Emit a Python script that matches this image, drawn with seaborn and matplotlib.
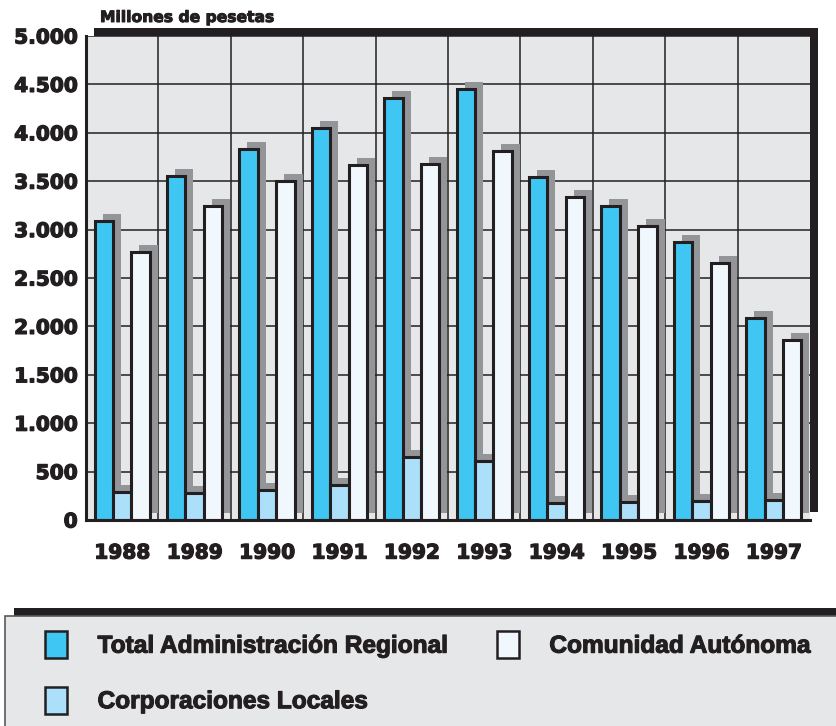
import numpy as np
import pandas as pd
import matplotlib
matplotlib.use('Agg')
import matplotlib.pyplot as plt
import matplotlib.patheffects as pe
import seaborn as sns
from matplotlib.patches import Rectangle, Patch
from matplotlib.transforms import ScaledTranslation

# ---------------- data ----------------
years = ['1988', '1989', '1990', '1991', '1992', '1993', '1994', '1995', '1996', '1997']
total_admin = [3090, 3550, 3830, 4050, 4360, 4450, 3540, 3240, 2875, 2085]
corporaciones = [285, 275, 310, 360, 650, 610, 180, 190, 195, 205]
comunidad = [2770, 3240, 3500, 3670, 3680, 3810, 3340, 3035, 2660, 1860]
series_names = ['Total Administración Regional', 'Corporaciones Locales', 'Comunidad Autónoma']
ytick_values = [0, 500, 1000, 1500, 2000, 2500, 3000, 3500, 4000, 4500, 5000]
ytick_labels = ['0', '500', '1.000', '1.500', '2.000', '2.500', '3.000', '3.500', '4.000', '4.500', '5.000']
unit_label = 'Millones de pesetas'

# ---------------- style ----------------
DARK = '#231f20'
BG = '#e6e7e8'
SHADOW = '#939598'
colors = {series_names[0]: '#3fc6f2', series_names[1]: '#abdffa', series_names[2]: '#f0f7fd'}

sns.set_theme(style='white')
plt.rcParams['font.family'] = ['DejaVu Sans']

heavy = [pe.withStroke(linewidth=0.9, foreground=DARK)]

df = pd.DataFrame({
    'year': years * 3,
    'serie': [series_names[0]] * len(years) + [series_names[1]] * len(years) + [series_names[2]] * len(years),
    'value': total_admin + corporaciones + comunidad,
})

DPI = 100
W, H = 837, 726
fig = plt.figure(figsize=(W / DPI, H / DPI), dpi=DPI)
fig.patch.set_facecolor('white')
L, R, B, T = 86, 810, 520, 36
ax = fig.add_axes([L / W, 1 - B / H, (R - L) / W, (B - T) / H])
ax.set_facecolor(BG)

# frame shadow behind plot area
frame_off = ScaledTranslation(8 / DPI, 8 / DPI, fig.dpi_scale_trans)
fig.add_artist(Rectangle((0, 0), 1, 1, transform=ax.transAxes + frame_off,
                         facecolor=DARK, edgecolor='none', zorder=-1))

# bar shadows
sns.barplot(data=df, x='year', y='value', hue='serie', hue_order=series_names,
            palette={s: SHADOW for s in series_names}, width=0.76, saturation=1,
            errorbar=None, legend=False, linewidth=0, ax=ax, zorder=1)
bar_off = ScaledTranslation(8 / DPI, 7 / DPI, fig.dpi_scale_trans)
for p in ax.patches:
    p.set_transform(ax.transData + bar_off)

# bars
sns.barplot(data=df, x='year', y='value', hue='serie', hue_order=series_names,
            palette=colors, width=0.76, saturation=1, errorbar=None, legend=False,
            edgecolor=DARK, linewidth=2.2, ax=ax, zorder=2)

ax.set_xlim(-0.5, len(years) - 0.5)
ax.set_ylim(0, 5000)
ax.set_xlabel('')
ax.set_ylabel('')

# grid
ax.set_axisbelow(True)
ax.set_yticks(ytick_values, labels=ytick_labels)
ax.set_xticks(np.arange(0.5, len(years) - 1, 1), minor=True)
ax.yaxis.grid(True, color=DARK, lw=1.1)
ax.xaxis.grid(True, which='minor', color=DARK, lw=1.1)
ax.xaxis.grid(False, which='major')

for s in ['top', 'right']:
    ax.spines[s].set_visible(False)
for s in ['left', 'bottom']:
    ax.spines[s].set_color(DARK)
    ax.spines[s].set_linewidth(2.2)
    ax.spines[s].set_zorder(3)

ax.tick_params(axis='y', length=3, width=2, color=DARK, pad=3, labelsize=14.5, labelcolor=DARK)
ax.tick_params(axis='x', which='major', length=0, pad=17, labelsize=14.5, labelcolor=DARK)
ax.tick_params(axis='x', which='minor', length=0)
for lab in ax.get_yticklabels() + ax.get_xticklabels():
    lab.set_fontweight('bold')
    lab.set_path_effects(heavy)

fig.text(100 / W, 1 - 22 / H, unit_label, fontsize=11.2, fontweight='bold',
         color=DARK, ha='left', va='baseline', path_effects=[pe.withStroke(linewidth=0.7, foreground=DARK)])

# legend box
fig.add_artist(Rectangle((14 / W, 1 - 616 / H), 1, 8 / H, transform=fig.transFigure,
                         facecolor=DARK, edgecolor='none', zorder=1))
fig.add_artist(Rectangle((5 / W, -0.05), 1, (1 - 616 / H) + 0.05, transform=fig.transFigure,
                         facecolor=BG, edgecolor='#58595b', lw=1.2, zorder=2))

handles = [Patch(facecolor=colors[s], edgecolor=DARK, linewidth=1.8, label=s) for s in series_names]
leg = fig.legend(handles=handles, loc='upper left', bbox_to_anchor=(45 / W, 1 - 631 / H),
                 ncol=2, frameon=False,
                 prop={'family': ['Liberation Sans', 'DejaVu Sans'], 'weight': 'bold', 'size': 17.6},
                 handlelength=0.9, handleheight=1.32, handletextpad=1.25, columnspacing=2.0,
                 labelspacing=1.17, borderpad=0, borderaxespad=0)
leg.set_zorder(3)
for t in leg.get_texts():
    t.set_color(DARK)
    t.set_path_effects([pe.withStroke(linewidth=0.8, foreground=DARK)])

fig.savefig('out.png', dpi=DPI)
